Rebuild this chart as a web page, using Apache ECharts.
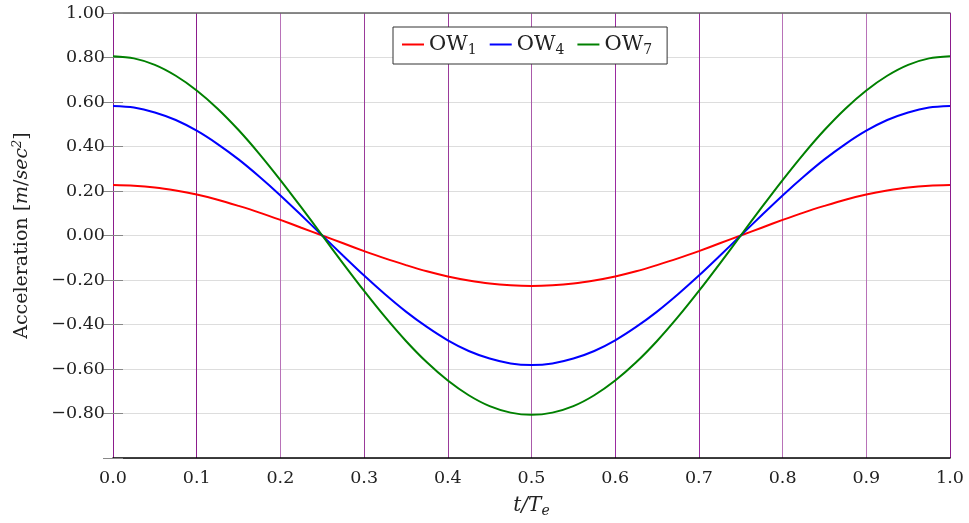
<!DOCTYPE html>
<html>
<head>
<meta charset="utf-8">
<script src="https://cdn.jsdelivr.net/npm/echarts@6/dist/echarts.min.js"></script>
<style>
  html, body { margin: 0; padding: 0; background: #fff; }
  #chart { width: 969px; height: 523px; }
</style>
</head>
<body>
<div id="chart"></div>
<script>
// Time samples, t/Te
const tValues = [
  0.000, 0.025, 0.050, 0.075, 0.100, 0.125, 0.150, 0.175, 0.200, 0.225,
  0.250, 0.275, 0.300, 0.325, 0.350, 0.375, 0.400, 0.425, 0.450, 0.475,
  0.500, 0.525, 0.550, 0.575, 0.600, 0.625, 0.650, 0.675, 0.700, 0.725,
  0.750, 0.775, 0.800, 0.825, 0.850, 0.875, 0.900, 0.925, 0.950, 0.975, 1.000
];

// Acceleration [m/sec^2] for each wave
const ow1 = [
  0.227, 0.224, 0.216, 0.202, 0.184, 0.161, 0.133, 0.103, 0.070, 0.035,
  0.000, -0.035, -0.070, -0.103, -0.133, -0.161, -0.184, -0.202, -0.216, -0.224,
  -0.227, -0.224, -0.216, -0.202, -0.184, -0.161, -0.133, -0.103, -0.070, -0.035,
  0.000, 0.035, 0.070, 0.103, 0.133, 0.161, 0.184, 0.202, 0.216, 0.224, 0.227
];
const ow4 = [
  0.582, 0.575, 0.553, 0.519, 0.471, 0.411, 0.342, 0.264, 0.180, 0.091,
  0.000, -0.091, -0.180, -0.264, -0.342, -0.411, -0.471, -0.519, -0.553, -0.575,
  -0.582, -0.575, -0.553, -0.519, -0.471, -0.411, -0.342, -0.264, -0.180, -0.091,
  0.000, 0.091, 0.180, 0.264, 0.342, 0.411, 0.471, 0.519, 0.553, 0.575, 0.582
];
const ow7 = [
  0.806, 0.796, 0.767, 0.718, 0.652, 0.570, 0.474, 0.366, 0.249, 0.126,
  0.000, -0.126, -0.249, -0.366, -0.474, -0.570, -0.652, -0.718, -0.767, -0.796,
  -0.806, -0.796, -0.767, -0.718, -0.652, -0.570, -0.474, -0.366, -0.249, -0.126,
  0.000, 0.126, 0.249, 0.366, 0.474, 0.570, 0.652, 0.718, 0.767, 0.796, 0.806
];

const seriesNames = ['OW1', 'OW4', 'OW7'];
const seriesColors = ['#ff0000', '#0000ff', '#008000'];

// Colours of the vertical guide lines at t/Te = 0.0 ... 1.0
const guideColors = [
  '#8c1c8c', '#8c1c8c', '#b872b8', '#9a3a9a', '#9a3a9a', '#aa5aaa',
  '#9a2aa0', '#9a2aa0', '#b872b8', '#b872b8', '#8c1c8c'
];

const FONT = 'DejaVu Serif';

const chart = echarts.init(document.getElementById('chart'), null, { renderer: 'canvas' });

function pairs(ys) {
  return ys.map((y, i) => [tValues[i], y]);
}

const grid = { left: 113, right: 19, top: 13, bottom: 63 };

const yLabel = v => {
  if (v <= -0.999) return '';
  const s = Math.abs(v).toFixed(2);
  return v < -1e-9 ? '\u2212' + s : s;
};

const option = {
  animation: false,
  backgroundColor: '#ffffff',
  grid: grid,
  legend: {
    top: 27,
    left: 393,
    data: seriesNames,
    icon: 'rect',
    backgroundColor: '#ffffff',
    borderColor: '#333333',
    borderWidth: 1,
    padding: [7, 15, 7, 9],
    itemWidth: 22,
    itemHeight: 2,
    itemGap: 13,
    formatter: name => '{a|OW}{s|' + name.slice(2) + '}',
    textStyle: {
      fontFamily: FONT,
      fontSize: 21,
      color: '#222',
      rich: {
        a: { fontFamily: FONT, fontSize: 21, color: '#222' },
        s: { fontFamily: FONT, fontSize: 14, color: '#222', verticalAlign: 'bottom', padding: [11, 0, 0, 0] }
      }
    }
  },
  xAxis: [
    {
      type: 'value',
      min: 0,
      max: 1,
      interval: 0.1,
      position: 'bottom',
      name: '{i|t/T}{s|e}',
      nameLocation: 'middle',
      nameGap: 36,
      nameTextStyle: {
        rich: {
          i: { fontFamily: FONT, fontStyle: 'italic', fontSize: 20, color: '#222' },
          s: { fontFamily: FONT, fontStyle: 'italic', fontSize: 14, color: '#222', verticalAlign: 'bottom', padding: [10, 0, 0, 0] }
        }
      },
      axisLine: { show: true, onZero: false, lineStyle: { color: '#000', width: 1.5 } },
      axisTick: { show: false },
      axisLabel: {
        margin: 11,
        fontFamily: FONT,
        fontSize: 17.5,
        color: '#222',
        formatter: v => v.toFixed(1)
      },
      splitLine: {
        show: true,
        showMinLine: true,
        showMaxLine: true,
        lineStyle: { color: guideColors, width: 1 }
      }
    },
    {
      type: 'value',
      min: 0,
      max: 1,
      interval: 0.1,
      position: 'top',
      axisLine: { show: true, onZero: false, lineStyle: { color: '#666', width: 1.5 } },
      axisTick: { show: false },
      axisLabel: { show: false },
      splitLine: { show: false }
    }
  ],
  yAxis: [
    {
      type: 'value',
      min: -1,
      max: 1,
      interval: 0.2,
      position: 'left',
      name: '{r|Acceleration [}{i|m}{r|/}{i|sec}{p|2}{r|]}',
      nameLocation: 'middle',
      nameGap: 80,
      nameRotate: 90,
      nameTextStyle: {
        rich: {
          r: { fontFamily: FONT, fontSize: 19, color: '#222' },
          i: { fontFamily: FONT, fontStyle: 'italic', fontSize: 19, color: '#222' },
          p: { fontFamily: FONT, fontStyle: 'italic', fontSize: 13, color: '#222', verticalAlign: 'top', padding: [0, 0, 9, 0] }
        }
      },
      axisLine: { show: false },
      axisTick: { show: true, inside: true, length: 10, lineStyle: { color: '#888', width: 1 } },
      axisLabel: {
        margin: 8,
        fontFamily: FONT,
        fontSize: 17.5,
        color: '#222',
        formatter: yLabel
      },
      splitLine: { show: true, lineStyle: { color: '#dddddd', width: 1 } }
    },
    {
      type: 'value',
      min: -1,
      max: 1,
      interval: 0.2,
      position: 'right',
      axisLine: { show: false },
      axisTick: { show: true, inside: true, length: 10, lineStyle: { color: '#888', width: 1 } },
      axisLabel: { show: false },
      splitLine: { show: false }
    }
  ],
  series: [ow1, ow4, ow7].map((ys, k) => ({
    name: seriesNames[k],
    type: 'line',
    xAxisIndex: 0,
    yAxisIndex: 0,
    data: pairs(ys),
    smooth: 0.3,
    symbol: 'none',
    lineStyle: { color: seriesColors[k], width: 2 },
    itemStyle: { color: seriesColors[k] },
    z: 3
  }))
};

chart.setOption(option);
</script>
</body>
</html>
